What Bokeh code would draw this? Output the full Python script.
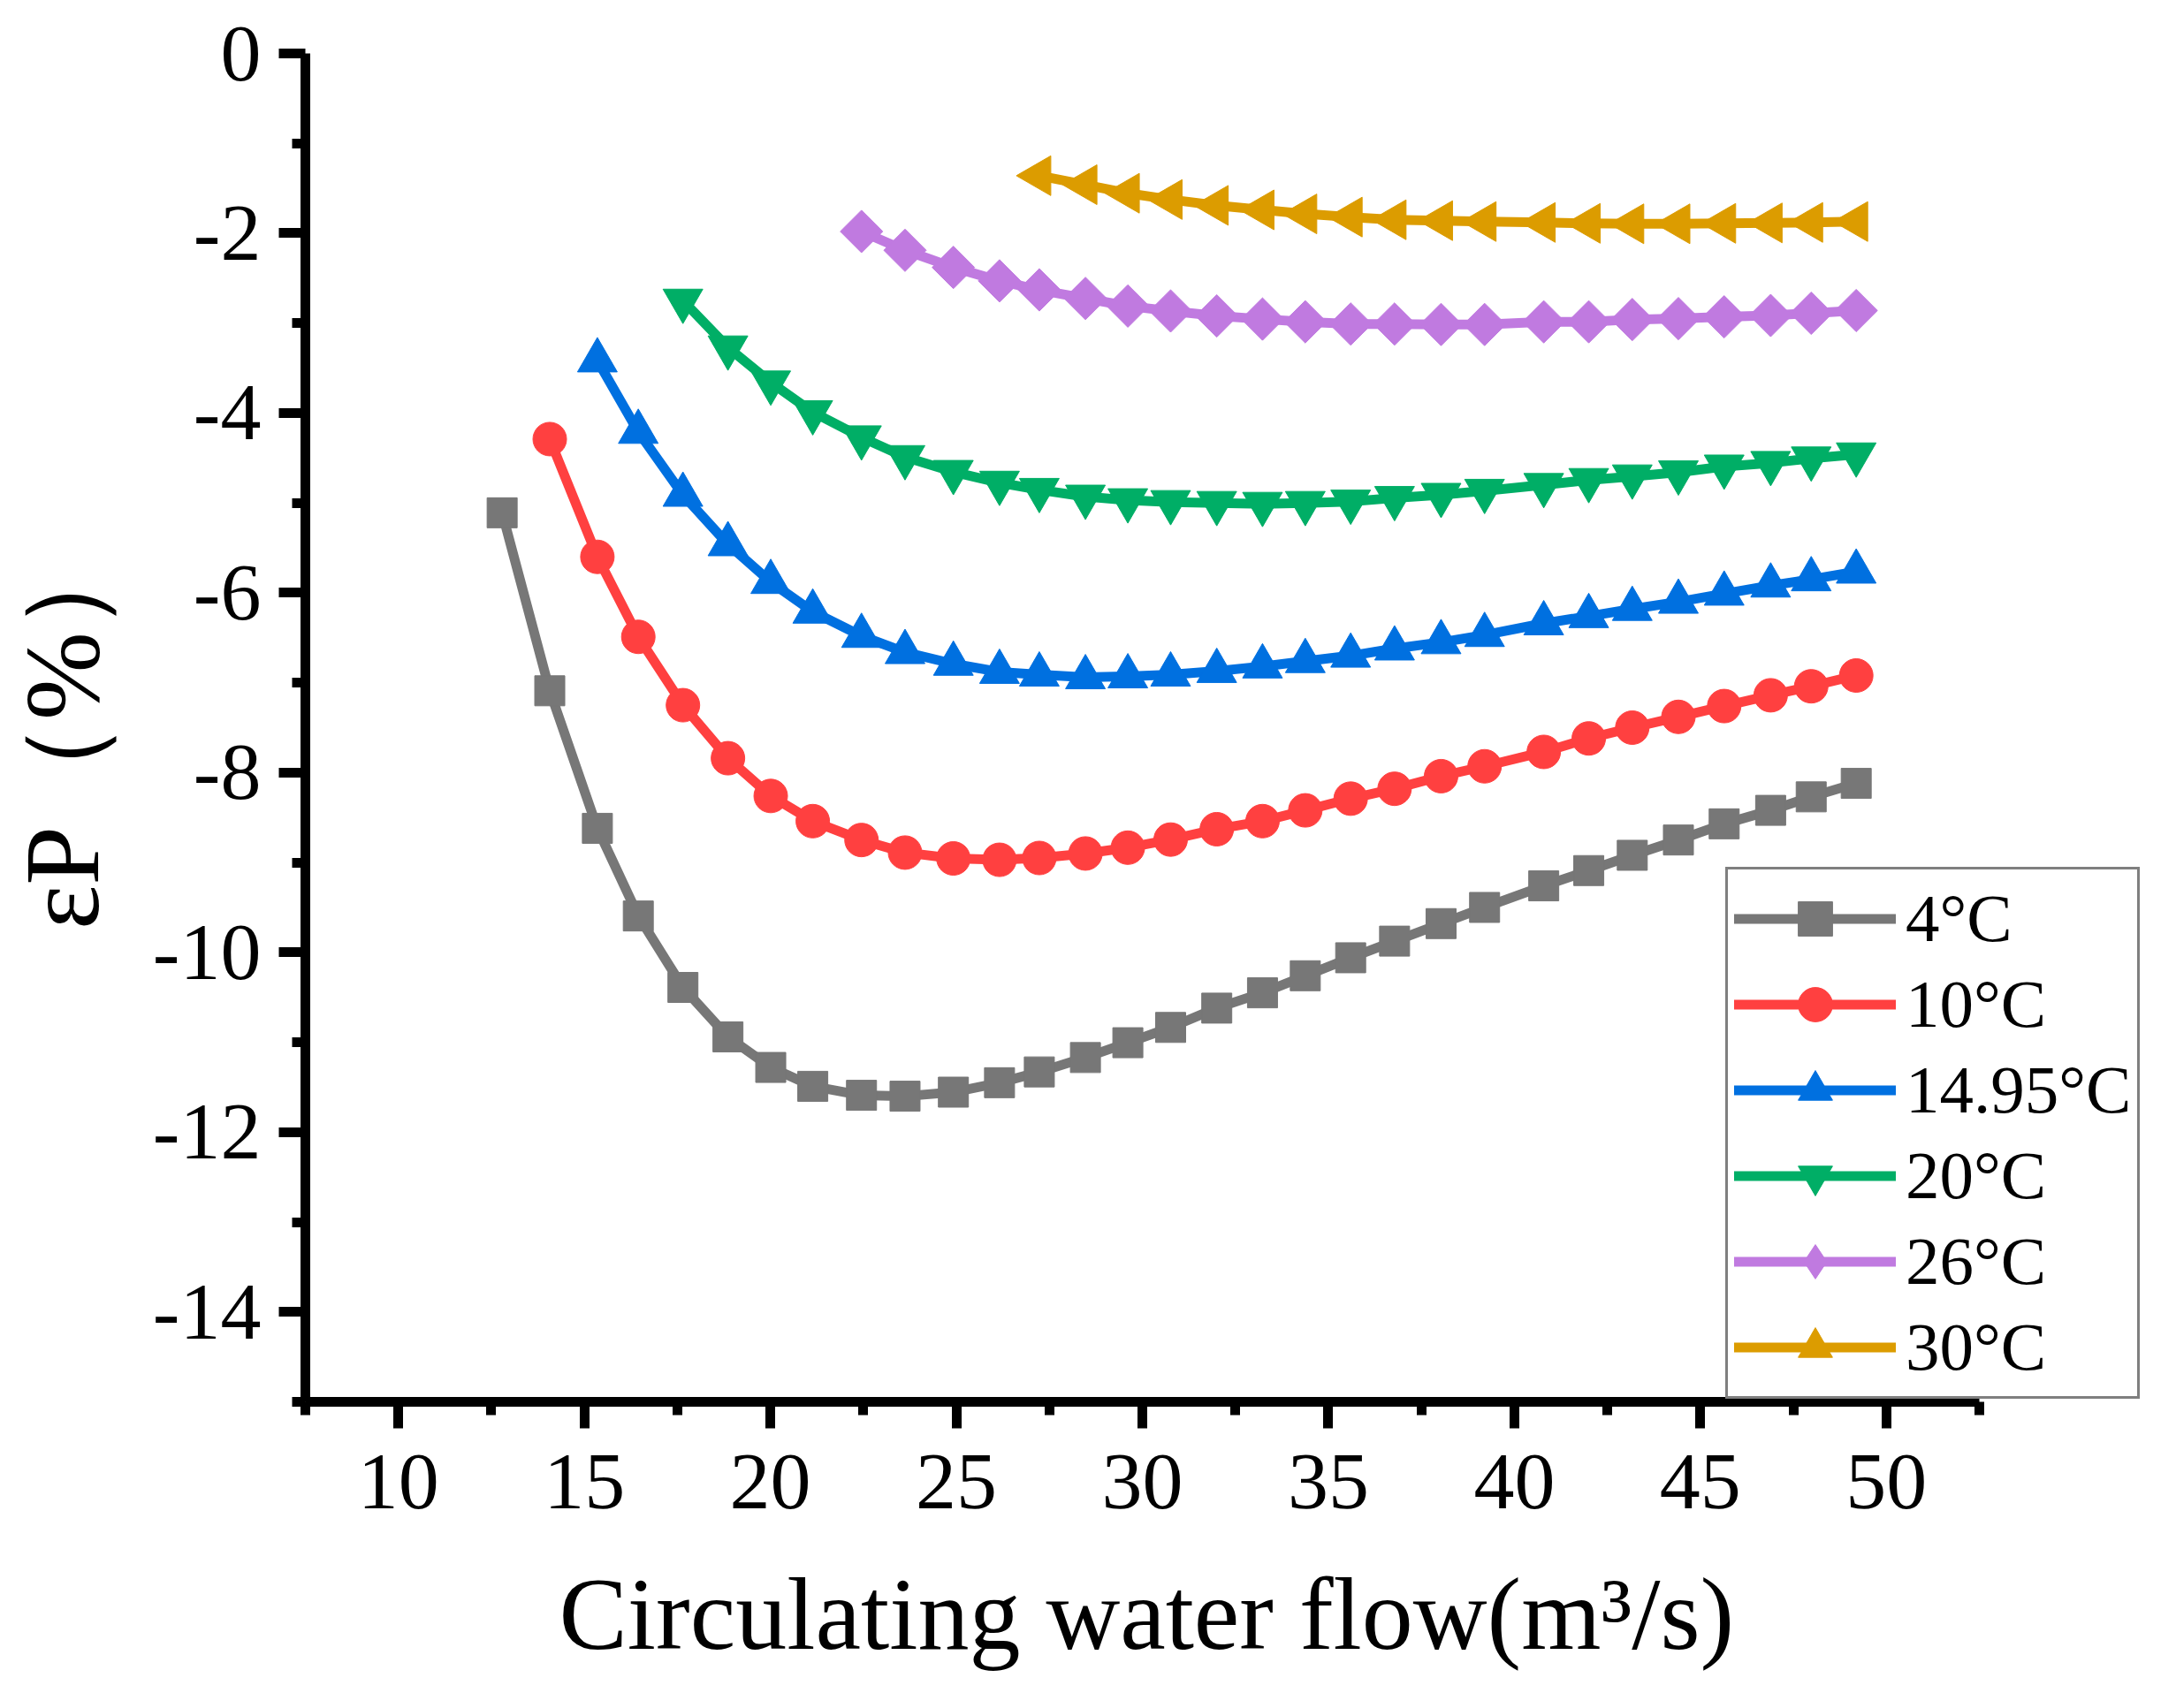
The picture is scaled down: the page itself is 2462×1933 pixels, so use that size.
import math
from bokeh.plotting import figure
from bokeh.models import FixedTicker, Legend, LegendItem, Range1d, Title
from bokeh.embed import file_html
from bokeh.resources import INLINE

# Circulating water flow (m3/s) shared x grid
flow = [12.79, 14.07, 15.35, 16.45, 17.65, 18.86, 20.01, 21.14, 22.45, 23.62,
        24.92, 26.16, 27.23, 28.47, 29.61, 30.76, 32.0, 33.23, 34.38, 35.6,
        36.78, 38.03, 39.2, 40.79, 42.0, 43.17, 44.41, 45.64, 46.89, 47.98, 49.19]

y_4 = [-5.11, -7.09, -8.62, -9.595, -10.39, -10.94, -11.28, -11.49, -11.59, -11.60,
       -11.555, -11.45, -11.33, -11.17, -11.005, -10.835, -10.62, -10.45, -10.26, -10.06,
       -9.875, -9.68, -9.50, -9.26, -9.09, -8.92, -8.75, -8.57, -8.42, -8.27, -8.12]
y_10 = [-4.29, -5.60, -6.49, -7.25, -7.84, -8.26, -8.54, -8.75, -8.89, -8.955,
        -8.97, -8.95, -8.90, -8.835, -8.745, -8.63, -8.54, -8.42, -8.29, -8.18,
        -8.04, -7.93, -7.77, -7.62, -7.50, -7.38, -7.26, -7.14, -7.04, -6.92]
y_1495 = [-3.415, -4.21, -4.91, -5.46, -5.88, -6.21, -6.48, -6.66, -6.79, -6.88,
          -6.91, -6.94, -6.93, -6.91, -6.87, -6.82, -6.76, -6.70, -6.62, -6.55,
          -6.47, -6.34, -6.26, -6.18, -6.10, -6.01, -5.92, -5.85, -5.765]
y_20 = [-2.75, -3.27, -3.66, -3.99, -4.27, -4.49, -4.655, -4.775, -4.855, -4.93,
        -4.97, -4.99, -5.0, -5.01, -5.0, -4.985, -4.945, -4.91, -4.865, -4.8,
        -4.745, -4.705, -4.66, -4.595, -4.555, -4.505, -4.46]
y_26 = [-1.98, -2.19, -2.38, -2.53, -2.63, -2.725, -2.81, -2.865, -2.92, -2.955,
        -2.985, -3.01, -3.01, -3.015, -3.015, -2.985, -2.985, -2.96, -2.95, -2.93,
        -2.915, -2.89, -2.86]
y_30 = [-1.36, -1.46, -1.555, -1.625, -1.69, -1.74, -1.785, -1.82, -1.85, -1.86,
        -1.87, -1.88, -1.89, -1.895, -1.895, -1.89, -1.885, -1.88, -1.87]

labels = ["4°C", "10°C", "14.95°C", "20°C", "26°C", "30°C"]
series = [y_4, y_10, y_1495, y_20, y_26, y_30]
colors = ["#777777", "#FF4040", "#0070E0", "#00AE66", "#C07AE0", "#DC9C00"]
markers = ["square", "circle", "triangle", "inverted_triangle", "square", "triangle"]
legend_markers = ["square", "circle", "triangle", "inverted_triangle", "diamond", "triangle"]
sizes = [34, 38, 45, 45, 34, 45]
angles = [0, 0, 0, 0, math.pi / 4, math.pi / 2]

x_ticks = [10, 15, 20, 25, 30, 35, 40, 45, 50]
x_minor = [7.5, 12.5, 17.5, 22.5, 27.5, 32.5, 37.5, 42.5, 47.5, 52.5]
y_ticks = [0, -2, -4, -6, -8, -10, -12, -14]
y_minor = [-1, -3, -5, -7, -9, -11, -13, -15]

W, H = 2440, 1930
FL, FT = 340, 60              # frame left / top (px)
PX_PER_X = 1894 / 45.0        # horizontal scale of the reference
FH = 1526                     # frame height
BR = 5                        # right border
FW = W - 346 - BR
x_end = 7.5 + FW / PX_PER_X   # frame reaches past the axis so the legend fits

p = figure(frame_width=FW, frame_height=FH, output_backend="svg", toolbar_location=None,
           x_range=Range1d(7.5, x_end), y_range=Range1d(-15, 0),
           min_border_left=FL, min_border_right=BR,
           min_border_top=FT, min_border_bottom=H - FT - FH)
p.outline_line_color = None
p.grid.visible = False
p.background_fill_color = "white"

FONT = "Liberation Serif"
for ax in (p.xaxis[0], p.yaxis[0]):
    ax.axis_line_width = 11
    ax.major_tick_line_width = 11
    ax.minor_tick_line_width = 11
    ax.major_tick_out = 30
    ax.major_tick_in = 0
    ax.minor_tick_out = 15
    ax.minor_tick_in = 0
    ax.major_label_text_font = FONT
    ax.major_label_text_font_size = "92px"
    ax.major_label_text_color = "black"
    ax.axis_label_text_font = FONT
    ax.axis_label_text_font_style = "normal"
    ax.axis_label_text_color = "black"

p.xaxis.bounds = (7.5, 52.5)
p.xaxis.ticker = FixedTicker(ticks=x_ticks, minor_ticks=x_minor)
p.yaxis.ticker = FixedTicker(ticks=y_ticks, minor_ticks=y_minor)
p.yaxis.major_label_overrides = {t: str(t) for t in y_ticks}
p.xaxis.major_label_standoff = 30
p.yaxis.major_label_standoff = 20
p.yaxis.axis_label = "εP（%）"
p.yaxis.axis_label_text_font_size = "120px"
p.yaxis.axis_label_standoff = 33

xtitle = Title(text="Circulating water flow(m³/s)", align="left", offset=287,
               text_font=FONT, text_font_size="116px", text_font_style="normal",
               text_color="black", standoff=103)
p.add_layout(xtitle, "below")

items = []
for lab, ys, c, m, lm, s, a in zip(labels, series, colors, markers, legend_markers, sizes, angles):
    xs = flow[len(flow) - len(ys):]
    lr = p.line(xs, ys, line_color=c, line_width=11, line_join="round", line_cap="round")
    sr = p.scatter(xs, ys, marker=m, size=s, angle=a, fill_color=c, line_color=c, line_width=1)
    rs = [lr, sr]
    if lm != m:
        # hidden twin glyph used only for the legend key (diamond shape)
        key = p.scatter(xs, ys, marker=lm, size=s, fill_color=c, line_color=c, visible=False)
        rs = [lr, key]
    items.append(LegendItem(label=lab, renderers=rs))

legend = Legend(items=items, location=(1607, 3), glyph_width=183, glyph_height=97,
                label_standoff=11, padding=7, spacing=0, margin=0,
                border_line_color="black", border_line_width=3,
                background_fill_color="white", background_fill_alpha=1.0,
                inactive_fill_alpha=0.0,
                label_text_font=FONT, label_text_font_size="77px",
                label_text_color="black")
p.add_layout(legend)

open("out.html", "w").write(file_html(p, INLINE))
